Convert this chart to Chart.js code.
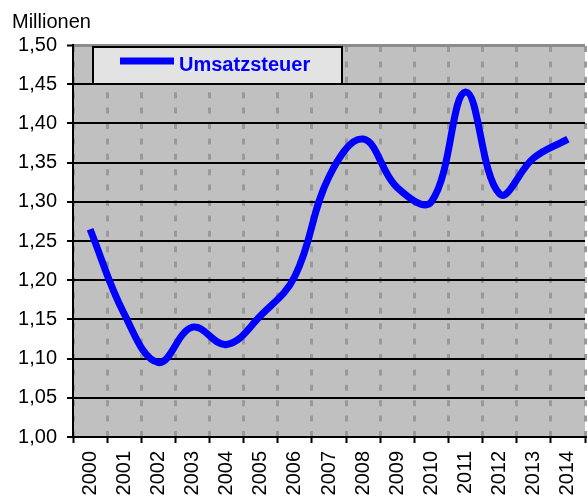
<!DOCTYPE html>
<html>
<head>
<meta charset="utf-8">
<script src="https://cdn.jsdelivr.net/npm/chart.js@4"></script>
<style>
    html, body { margin: 0; padding: 0; background: #fff; overflow: hidden; }
    #wrap { width: 587px; height: 498px; overflow: hidden; }
    canvas { display: block; }
</style>
</head>
<body>
<div id="wrap"><canvas id="umsatzChart" width="600" height="498"></canvas></div>
<script>
// Data
const years = ['2000', '2001', '2002', '2003', '2004', '2005', '2006', '2007',
               '2008', '2009', '2010', '2011', '2012', '2013', '2014'];
const umsatzsteuer = [1.265, 1.157, 1.095, 1.14, 1.118, 1.155, 1.205, 1.332,
                      1.38, 1.318, 1.30, 1.44, 1.31, 1.356, 1.38];
const yMin = 1.00;
const yMax = 1.50;
const yStep = 0.05;
const unitLabel = 'Millionen';
const seriesName = 'Umsatzsteuer';

const FONT = '"Liberation Sans", Arial, sans-serif';

// Gray plot background, unit title and the boxed legend
const excelLook = {
    id: 'excelLook',
    beforeDraw(chart) {
        const { ctx, chartArea: a } = chart;
        ctx.save();
        ctx.fillStyle = '#c0c0c0';
        ctx.fillRect(a.left, a.top, a.right - a.left, a.bottom - a.top);
        ctx.restore();
    },
    afterDraw(chart) {
        const ctx = chart.ctx;
        ctx.save();
        ctx.fillStyle = '#000';
        ctx.font = '20px ' + FONT;
        ctx.textBaseline = 'alphabetic';
        ctx.fillText(unitLabel, 12, 28);

        // legend box
        ctx.fillStyle = '#e3e3e3';
        ctx.fillRect(93, 47, 249, 37);
        ctx.strokeStyle = '#000';
        ctx.lineWidth = 2;
        ctx.strokeRect(93, 47, 249, 37);
        ctx.strokeStyle = '#0000ff';
        ctx.lineWidth = 7;
        ctx.beginPath();
        ctx.moveTo(120, 61);
        ctx.lineTo(174, 61);
        ctx.stroke();
        ctx.fillStyle = '#0000ff';
        ctx.font = 'bold 20px ' + FONT;
        ctx.fillText(seriesName, 179, 71);
        ctx.restore();
    }
};

new Chart(document.getElementById('umsatzChart'), {
    type: 'line',
    data: {
        labels: years,
        datasets: [{
            label: seriesName,
            data: umsatzsteuer,
            borderColor: '#0000ff',
            borderWidth: 7,
            borderCapStyle: 'butt',
            tension: 0.4,
            pointRadius: 0,
            fill: false
        }]
    },
    options: {
        responsive: false,
        animation: false,
        devicePixelRatio: 1,
        layout: { padding: { top: 45, right: 2, left: 0, bottom: 0 } },
        plugins: {
            legend: { display: false },
            tooltip: { enabled: false }
        },
        scales: {
            x: {
                offset: true,
                grid: {
                    offset: true,
                    color: '#999999',
                    lineWidth: 3,
                    tickColor: '#000',
                    tickWidth: 2,
                    tickLength: 6,
                    tickBorderDash: []
                },
                border: { display: true, color: '#000', width: 2, dash: [6, 9.4], dashOffset: -1 },
                ticks: {
                    color: '#000',
                    font: { family: FONT, size: 20 },
                    minRotation: 90,
                    maxRotation: 90,
                    padding: 8,
                    autoSkip: false
                },
                afterFit(scale) { scale.height = 61; }
            },
            y: {
                min: yMin,
                max: yMax,
                grid: {
                    color: (c) => (c.tick && c.tick.value >= yMax - 1e-9) ? '#8c8c8c' : '#000',
                    lineWidth: (c) => (c.tick && c.tick.value >= yMax - 1e-9) ? 3 : 2,
                    tickColor: '#000',
                    tickWidth: 2,
                    tickLength: 6
                },
                border: { display: true, color: '#000', width: 2 },
                ticks: {
                    stepSize: yStep,
                    color: '#000',
                    padding: 10,
                    font: { family: FONT, size: 20 },
                    callback: (v) => Number(v).toFixed(2).replace('.', ',')
                },
                afterFit(scale) { scale.width = 73; }
            }
        }
    },
    plugins: [excelLook]
});
</script>
</body>
</html>
